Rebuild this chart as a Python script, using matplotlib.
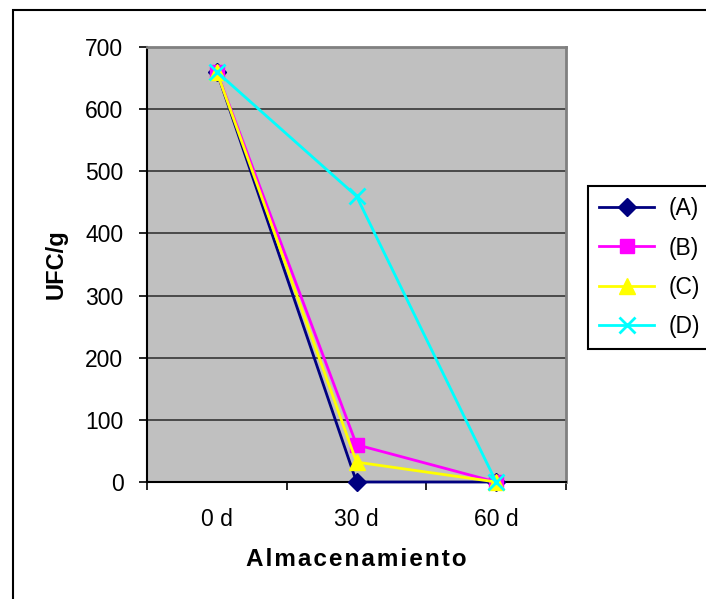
import matplotlib
matplotlib.use('Agg')
import matplotlib.pyplot as plt
from matplotlib.patches import Rectangle

categories = ['0 d', '30 d', '60 d']
series_names = ['(A)', '(B)', '(C)', '(D)']
values_A = [660, 0, 0]
values_B = [660, 60, 0]
values_C = [660, 32, 0]
values_D = [660, 460, 0]
y_ticks = [0, 100, 200, 300, 400, 500, 600, 700]
x_label = 'Almacenamiento'
y_label = 'UFC/g'

plt.rcParams['font.family'] = ['Liberation Sans', 'DejaVu Sans']

W, H = 706, 599
fig = plt.figure(figsize=(W / 100, H / 100), dpi=100)
ax = fig.add_axes([147 / W, (H - 482) / H, (566 - 147) / W, (482 - 47) / H])
ax.set_facecolor('#C0C0C0')

styles = [
    dict(color='#000080', marker='D', markersize=9),
    dict(color='#FF00FF', marker='s', markersize=10),
    dict(color='#FFFF00', marker='^', markersize=11),
    dict(color='#00FFFF', marker='x', markersize=11, markeredgewidth=2),
]
series = [values_A, values_B, values_C, values_D]
x = list(range(len(categories)))
for vals, name, st in zip(series, series_names, styles):
    ax.plot(x, vals, lw=2, label=name, clip_on=False, zorder=3, **st)

ax.set_xlim(-0.5, len(categories) - 0.5)
ax.set_ylim(y_ticks[0], y_ticks[-1])
ax.set_yticks(y_ticks)
ax.set_xticks(x)
ax.set_xticklabels(categories)
ax.set_xticks([i - 0.5 for i in range(len(categories) + 1)], minor=True)

ax.tick_params(axis='y', which='major', direction='out', length=6, width=1.2,
               pad=11, labelsize=16.5, color='black')
ax.tick_params(axis='x', which='major', length=0, pad=19, labelsize=16.5)
ax.tick_params(axis='x', which='minor', direction='out', length=6, width=1.2)

ax.yaxis.grid(True, color='#404040', lw=1.3)
ax.set_axisbelow(True)

ax.spines['left'].set_color('black')
ax.spines['left'].set_linewidth(1.5)
ax.spines['bottom'].set_color('black')
ax.spines['bottom'].set_linewidth(1.5)
ax.spines['top'].set_color('#808080')
ax.spines['top'].set_linewidth(2)
ax.spines['right'].set_color('#808080')
ax.spines['right'].set_linewidth(2)

ylab = ax.set_ylabel(y_label, fontweight='bold', fontsize=17)
ax.yaxis.set_label_coords((56 - 147) / 419, 0.5)
ylab.set_va('center')
ylab.set_ha('center')
xlab = ax.set_xlabel('\u200a'.join(x_label), fontweight='bold', fontsize=17.5)
ax.xaxis.set_label_coords(0.5, -(560 - 482) / 435)
xlab.set_va('center')

leg = ax.legend(loc='upper left', bbox_to_anchor=(588 / W, 1 - 186 / H),
                bbox_transform=fig.transFigure, borderaxespad=0, frameon=True,
                fancybox=False, edgecolor='black', framealpha=1, fontsize=16.5,
                handlelength=2.4, handletextpad=0.6, borderpad=0.5,
                labelspacing=0.7)
leg.get_frame().set_linewidth(1.5)

fig.patches.append(Rectangle((12.5 / W, -0.1), 1.2, 1 - 10 / H + 0.1,
                             transform=fig.transFigure, fill=False,
                             ec='black', lw=1.5))

fig.savefig('out.png', dpi=100)
